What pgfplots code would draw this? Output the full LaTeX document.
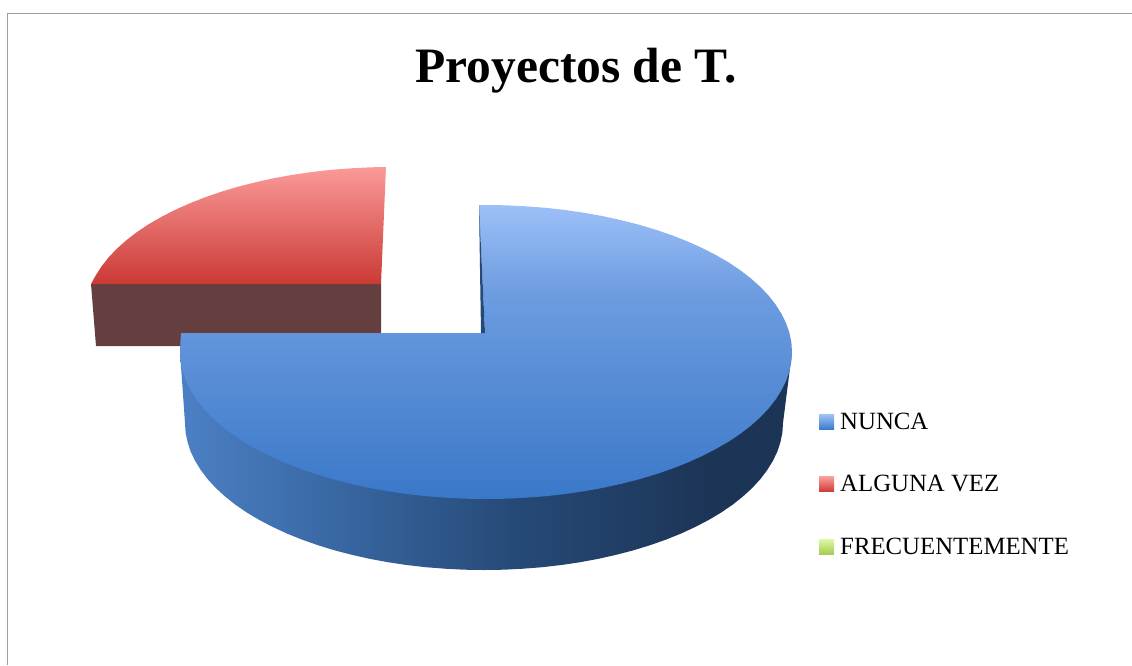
\documentclass[border=0pt]{standalone}
\usepackage{pgfplots}
\pgfplotsset{compat=1.18}
\usepackage{fontspec}
\setmainfont{Liberation Serif}
\definecolor{bt1}{HTML}{9CC0F8}
\definecolor{bt2}{HTML}{6D9CE0}
\definecolor{bt3}{HTML}{3A78C8}
\definecolor{s0}{HTML}{4C80C4}
\definecolor{s1}{HTML}{3B6BA8}
\definecolor{s2}{HTML}{264A78}
\definecolor{s3}{HTML}{1C3557}
\definecolor{rt1}{HTML}{FB9A99}
\definecolor{rt2}{HTML}{CB3A35}
\definecolor{gt1}{HTML}{DDF9A6}
\definecolor{gt2}{HTML}{A5CC52}
\definecolor{brown}{HTML}{653F3F}
\pgfdeclareverticalshading{bluetop}{100bp}{color(0bp)=(bt3);color(25bp)=(bt3);color(60bp)=(bt2);color(75bp)=(bt1);color(100bp)=(bt1)}
\pgfdeclarehorizontalshading{blueside}{100bp}{color(0bp)=(s0);color(25bp)=(s0);color(36bp)=(s1);color(52bp)=(s2);color(68bp)=(s3);color(100bp)=(s3)}
\pgfdeclareverticalshading{redtop}{100bp}{color(0bp)=(rt2);color(25bp)=(rt2);color(75bp)=(rt1);color(100bp)=(rt1)}
\begin{document}
\begin{tikzpicture}
\begin{axis}[
  scale only axis, width=1132pt, height=665pt,
  xmin=0, xmax=1132, ymin=0, ymax=665, y dir=reverse,
  axis lines=none,
  legend style={at={(axis cs:819,412)}, anchor=north west, draw=none, fill=none,
    font=\fontsize{24.8}{28}\selectfont, row sep=42.3pt, inner sep=0pt,
    nodes={inner sep=1pt}},
  legend cell align=left,
]
\path[use as bounding box] (rel axis cs:0,0) rectangle (rel axis cs:1,1);
% frame
\addplot[forget plot, draw=black!38, line width=1.1pt] coordinates {(7.5,665)(7.5,13.5)(1132,13.5)};
% ALGUNA VEZ: 25 %, side
\addplot[forget plot, draw=none, fill=brown] coordinates {(91,284)(381,284)(381,340)(200,346)(96,346)} --cycle;
% ALGUNA VEZ: 25 %, top
\addplot[forget plot, draw=none, shading=redtop] coordinates {
(386,167)(371,167.3)(351.1,168.3)(331.3,169.8)(311.8,172)(292.7,174.8)(273.9,178.2)(255.7,182.2)(238,186.7)(221,191.8)(204.7,197.4)(189.3,203.5)(174.6,210.1)(161,217.1)(148.2,224.5)(136.6,232.3)(126,240.5)(116.5,249)(108.3,257.7)(101.2,266.8)(95.4,276)(91,284)(381,284)} --cycle;
% NUNCA: 75 %, side
\addplot[forget plot, draw=none, shading=blueside] coordinates {
(792,352)(783,423)(782.4,432.6)(780.4,442.2)(777.3,451.7)(772.8,461)(767.1,470.2)(760.2,479.3)(752.2,488)(742.9,496.5)(732.6,504.7)(721.2,512.5)(708.8,519.9)(695.4,526.9)(681.1,533.5)(666,539.6)(650.1,545.2)(633.5,550.3)(616.2,554.8)(598.4,558.8)(580.1,562.2)(561.4,565)(542.3,567.2)(523,568.7)(503.6,569.7)(484,570)(464.4,569.7)(445,568.7)(425.7,567.2)(406.6,565)(387.9,562.2)(369.6,558.8)(351.8,554.8)(334.5,550.3)(317.9,545.2)(302,539.6)(286.9,533.5)(272.6,526.9)(259.2,519.9)(246.8,512.5)(235.4,504.7)(225.1,496.5)(215.8,488)(207.8,479.3)(200.9,470.2)(195.2,461)(190.7,451.7)(187.6,442.2)(185.6,432.6)(185,423)(180,352)} --cycle;
% NUNCA: 75 %, top
\addplot[forget plot, draw=none, shading=bluetop] coordinates {
(479,205)(486,205)(506,205.3)(525.9,206.3)(545.7,207.8)(565.2,210)(584.3,212.8)(603.1,216.2)(621.3,220.2)(639,224.7)(656,229.8)(672.3,235.4)(687.7,241.5)(702.4,248.1)(716,255.1)(728.8,262.5)(740.4,270.3)(751,278.5)(760.5,287)(768.7,295.7)(775.8,304.8)(781.6,314)(786.1,323.3)(789.4,332.8)(791.4,342.4)(792,352)(791.4,361.6)(789.4,371.2)(786.1,380.7)(781.6,390)(775.8,399.2)(768.7,408.3)(760.5,417)(751,425.5)(740.4,433.7)(728.8,441.5)(716,448.9)(702.4,455.9)(687.7,462.5)(672.3,468.6)(656,474.2)(639,479.3)(621.3,483.8)(603.1,487.8)(584.3,491.2)(565.2,494)(545.7,496.2)(525.9,497.7)(506,498.7)(486,499)(466,498.7)(446.1,497.7)(426.3,496.2)(406.8,494)(387.7,491.2)(368.9,487.8)(350.7,483.8)(333,479.3)(316,474.2)(299.7,468.6)(284.3,462.5)(269.6,455.9)(256,448.9)(243.2,441.5)(231.6,433.7)(221,425.5)(211.5,417)(203.3,408.3)(196.2,399.2)(190.4,390)(185.9,380.7)(182.6,371.2)(180.6,361.6)(180,352)(180.5,340)(181,333)(485,333)} --cycle;
% NUNCA: cut face
\addplot[forget plot, draw=none, fill=s2] coordinates {(479,205)(481,333)(485,333)} --cycle;
% title
\node[font=\fontsize{49.5}{55}\selectfont\bfseries, anchor=base] at (axis cs:576,82) {Proyectos de T.};
% legend
\addlegendimage{legend image code/.code={\path[draw=none] (0pt,0pt) -- (20pt,0pt);\shade[draw=none, top color=bt1, bottom color=bt3] (0pt,-7.5pt) rectangle (15pt,7.5pt);}}
\addlegendimage{legend image code/.code={\path[draw=none] (0pt,0pt) -- (20pt,0pt);\shade[draw=none, top color=rt1, bottom color=rt2] (0pt,-7.5pt) rectangle (15pt,7.5pt);}}
\addlegendimage{legend image code/.code={\path[draw=none] (0pt,0pt) -- (20pt,0pt);\shade[draw=none, top color=gt1, bottom color=gt2] (0pt,-7.5pt) rectangle (15pt,7.5pt);}}
\addlegendentry{NUNCA}
\addlegendentry{ALGUNA VEZ}
\addlegendentry{FRECUENTEMENTE}
\end{axis}
\end{tikzpicture}
\end{document}
